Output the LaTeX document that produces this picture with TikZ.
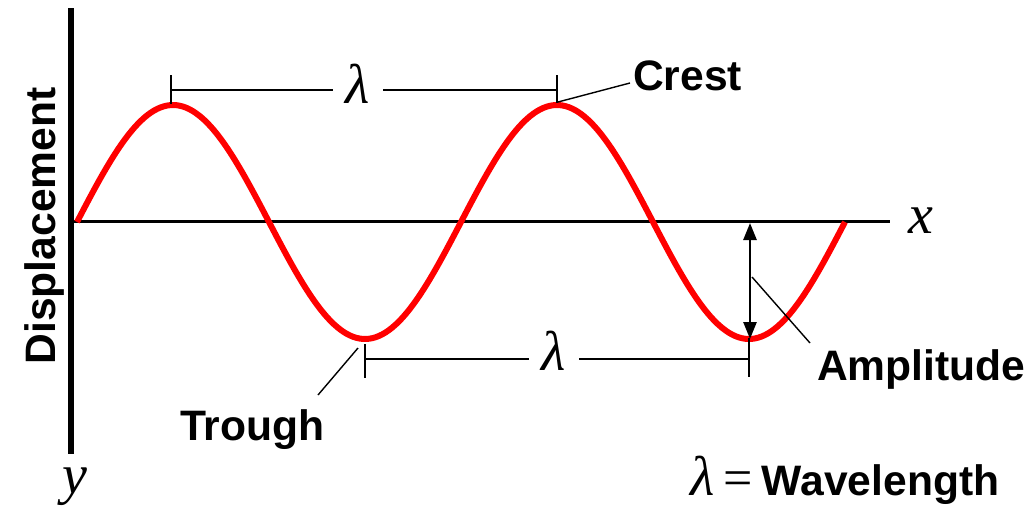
\documentclass[tikz,border=0pt]{standalone}
\usepackage{fontspec}
\setmainfont{Liberation Sans}
\newfontfamily\seriff{Liberation Serif}
\usetikzlibrary{arrows.meta}
\begin{document}
\begin{tikzpicture}[x=1pt,y=-1pt,
  lab/.style={font=\fontsize{42.6pt}{50pt}\selectfont\bfseries, inner sep=0pt},
  mathlab/.style={font=\fontsize{56pt}{62pt}\selectfont\seriff\itshape, inner sep=0pt},
  lamnode/.style={mathlab, inner xsep=13pt},
  wave/.style={red, line width=6pt},
  axisy/.style={line width=6pt},
  axisx/.style={line width=3pt},
  bracket/.style={line width=2.8pt},
  leader/.style={line width=1.4pt},
  amp/.style={line width=2.6pt, {Triangle[width=13pt,length=17pt]}-{Triangle[width=13pt,length=17pt]}}]
\useasboundingbox (0,0) rectangle (1036,506);

% axes
\coordinate (ytop) at (71,8);
\coordinate (ybot) at (71,454);
\draw[axisy] (ytop) -- (ybot);
\coordinate (xo) at (71,221);
\coordinate (xend) at (890,221);
\draw[axisx] (xo) -- (xend);
\node[mathlab, anchor=base] (xl) at (921,233) {x};
\node[mathlab, anchor=base] (yl) at (75,493) {y};
\node[lab, rotate=90, anchor=base] (disp) at (55,226) {Displacement};

% wave
\draw[wave] plot[domain=77:845, samples=240, smooth] (\x, {222-117*sin((\x-77)*0.9375)});

% top wavelength bracket
\coordinate (tl) at (171,90);
\coordinate (tr) at (557,90);
\coordinate (tla) at (171,75);
\coordinate (tlb) at (171,104);
\coordinate (tra) at (557,75);
\coordinate (trb) at (557,103);
\node[lamnode, anchor=base] (lam1) at (358,103) {λ};
\draw[bracket] (tl) -- (tl -| lam1.west);
\draw[bracket] (tr -| lam1.east) -- (tr);
\draw[bracket] (tla) -- (tlb);
\draw[bracket] (tra) -- (trb);

% bottom wavelength bracket
\coordinate (bl) at (365,359);
\coordinate (br) at (749,359);
\coordinate (bla) at (365,344);
\coordinate (blb) at (365,378);
\coordinate (bra) at (749,338);
\coordinate (brb) at (749,377);
\node[lamnode, anchor=base] (lam2) at (554,370) {λ};
\draw[bracket] (bl) -- (bl -| lam2.west);
\draw[bracket] (br -| lam2.east) -- (br);
\draw[bracket] (bla) -- (blb);
\draw[bracket] (bra) -- (brb);

% amplitude arrow
\coordinate (amptop) at (750,223);
\coordinate (ampbot) at (750,339);
\draw[amp] (amptop) -- (ampbot);

% labels
\node[lab, anchor=base west] (crest) at (633,90) {Crest};
\node[lab, anchor=base west] (trough) at (180,440) {Trough};
\node[lab, anchor=base west] (ampl) at (817,380) {Amplitude};
\node[lab, anchor=base west] (legend) at (690,495)
  {{\fontsize{56pt}{62pt}\selectfont\seriff\mdseries\itshape λ}\kern9pt{\fontsize{52pt}{58pt}\selectfont\seriff\mdseries =}\kern9pt Wavelength};

% leaders
\coordinate (crestpt) at (558,102);
\coordinate (crestend) at (630,83);
\draw[leader] (crestpt) -- (crestend);
\coordinate (troughpt) at (358,348);
\coordinate (troughend) at (318,395);
\draw[leader] (troughpt) -- (troughend);
\coordinate (amppt) at (752,277);
\coordinate (ampend) at (810,343);
\draw[leader] (amppt) -- (ampend);
\end{tikzpicture}
\end{document}
